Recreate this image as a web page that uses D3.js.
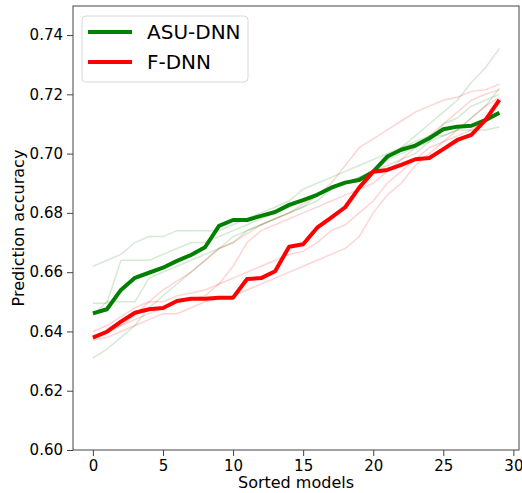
<!DOCTYPE html>
<html>
<head>
<meta charset="utf-8">
<script src="https://cdn.jsdelivr.net/npm/d3@7"></script>
<style>
  html, body { margin: 0; padding: 0; background: #fff; }
  svg text { font-family: "DejaVu Sans", sans-serif; fill: #000; }
</style>
</head>
<body>
<svg id="chart" width="522" height="493"></svg>
<script>
// ── data ──
const models = d3.range(30);
const xTicks = [0, 5, 10, 15, 20, 25, 30];
const yTicks = [0.60, 0.62, 0.64, 0.66, 0.68, 0.70, 0.72, 0.74];

const asuMean = [0.6461, 0.6475, 0.6540, 0.6581, 0.6598, 0.6615, 0.6638, 0.6658, 0.6684, 0.6756,
  0.6776, 0.6776, 0.6790, 0.6803, 0.6827, 0.6843, 0.6861, 0.6885, 0.6902, 0.6911,
  0.6939, 0.6990, 0.7013, 0.7027, 0.7052, 0.7082, 0.7091, 0.7094, 0.7113, 0.7138];
const fMean = [0.6379, 0.6399, 0.6433, 0.6463, 0.6475, 0.6479, 0.6503, 0.6510, 0.6510, 0.6514,
  0.6514, 0.6577, 0.6580, 0.6603, 0.6686, 0.6694, 0.6750, 0.6784, 0.6819, 0.6885,
  0.6939, 0.6945, 0.6962, 0.6981, 0.6985, 0.7015, 0.7046, 0.7063, 0.7113, 0.7181];

// individual runs (faint)
const asuRuns = [
  [0.662, 0.664, 0.666, 0.670, 0.672, 0.672, 0.674, 0.674, 0.674, 0.674, 0.676, 0.678, 0.680, 0.682, 0.684,
   0.688, 0.690, 0.692, 0.694, 0.696, 0.698, 0.700, 0.702, 0.704, 0.706, 0.706, 0.708, 0.708, 0.708, 0.709],
  [0.631, 0.634, 0.638, 0.642, 0.648, 0.652, 0.656, 0.660, 0.664, 0.668, 0.672, 0.674, 0.676, 0.678, 0.680,
   0.682, 0.684, 0.688, 0.690, 0.692, 0.694, 0.698, 0.702, 0.706, 0.710, 0.714, 0.718, 0.724, 0.729, 0.7355],
  [0.6495, 0.6495, 0.664, 0.664, 0.664, 0.666, 0.668, 0.670, 0.670, 0.672, 0.674, 0.676, 0.678, 0.680, 0.682,
   0.684, 0.686, 0.688, 0.690, 0.692, 0.694, 0.698, 0.700, 0.702, 0.704, 0.710, 0.712, 0.716, 0.718, 0.720],
  [0.6455, 0.650, 0.650, 0.650, 0.658, 0.660, 0.662, 0.664, 0.666, 0.668, 0.670, 0.674, 0.676, 0.678, 0.680,
   0.682, 0.686, 0.688, 0.690, 0.692, 0.694, 0.696, 0.698, 0.700, 0.704, 0.706, 0.708, 0.712, 0.716, 0.722]
];
const fRuns = [
  [0.6385, 0.6395, 0.642, 0.6455, 0.650, 0.654, 0.657, 0.660, 0.664, 0.668, 0.670, 0.673, 0.676, 0.678, 0.680,
   0.683, 0.686, 0.690, 0.696, 0.702, 0.705, 0.708, 0.711, 0.714, 0.716, 0.718, 0.719, 0.721, 0.7215, 0.7235],
  [0.637, 0.638, 0.640, 0.642, 0.644, 0.646, 0.646, 0.648, 0.650, 0.651, 0.652, 0.654, 0.656, 0.658, 0.660,
   0.662, 0.664, 0.666, 0.668, 0.672, 0.680, 0.686, 0.690, 0.696, 0.700, 0.704, 0.708, 0.712, 0.716, 0.719],
  [0.6375, 0.640, 0.642, 0.644, 0.646, 0.648, 0.650, 0.651, 0.652, 0.656, 0.662, 0.670, 0.674, 0.676, 0.678,
   0.680, 0.682, 0.684, 0.686, 0.688, 0.690, 0.694, 0.698, 0.702, 0.706, 0.710, 0.714, 0.718, 0.720, 0.7215],
  [0.640, 0.642, 0.645, 0.648, 0.650, 0.650, 0.652, 0.653, 0.654, 0.656, 0.658, 0.660, 0.662, 0.664, 0.666,
   0.667, 0.670, 0.674, 0.676, 0.680, 0.684, 0.690, 0.694, 0.698, 0.702, 0.704, 0.706, 0.708, 0.712, 0.717]
];

const series = [
  { name: 'ASU-DNN', color: 'green', mean: asuMean, runs: asuRuns },
  { name: 'F-DNN',   color: 'red',   mean: fMean,   runs: fRuns }
];

// ── layout ──
const M = { left: 73, top: 6, right: 519, bottom: 450 };
const svg = d3.select('#chart');

const x = d3.scaleLinear().domain([-1.42, 30.4]).range([M.left, M.right]);
const y = d3.scaleLinear().domain([0.60, 0.7498]).range([M.bottom, M.top]);

const line = d3.line().x((d, i) => x(models[i])).y(d => y(d));

// faint runs first, then the means on top
const plot = svg.append('g');
series.forEach(s => {
  s.runs.forEach(r => {
    plot.append('path').datum(r)
      .attr('d', line).attr('fill', 'none')
      .attr('stroke', s.color).attr('stroke-opacity', 0.17).attr('stroke-width', 1.5);
  });
});
series.forEach(s => {
  plot.append('path').datum(s.mean)
    .attr('d', line).attr('fill', 'none')
    .attr('stroke', s.color).attr('stroke-width', 4).attr('stroke-linejoin', 'round');
});

// axes
const xAxis = svg.append('g').attr('transform', `translate(0,${M.bottom})`)
  .call(d3.axisBottom(x).tickValues(xTicks).tickSize(6).tickPadding(4).tickFormat(d3.format('d')));
const yAxis = svg.append('g').attr('transform', `translate(${M.left},0)`)
  .call(d3.axisLeft(y).tickValues(yTicks).tickSize(6).tickPadding(4).tickFormat(d3.format('.2f')));
[xAxis, yAxis].forEach(a => {
  a.select('.domain').remove();
  a.selectAll('line').attr('stroke', '#444');
  a.selectAll('text').attr('font-size', 15).attr('font-family', '"DejaVu Sans", sans-serif');
});

// frame
svg.append('rect')
  .attr('x', M.left).attr('y', M.top)
  .attr('width', M.right - M.left).attr('height', M.bottom - M.top)
  .attr('fill', 'none').attr('stroke', '#444').attr('stroke-width', 1);

// labels
svg.append('text').attr('x', (M.left + M.right) / 2).attr('y', 488)
  .attr('text-anchor', 'middle').attr('font-size', 16).text('Sorted models');
svg.append('text').attr('transform', `translate(24,${(M.top + M.bottom) / 2}) rotate(-90)`)
  .attr('text-anchor', 'middle').attr('font-size', 16).text('Prediction accuracy');

// legend
const lg = svg.append('g').attr('transform', 'translate(82,16)');
lg.append('rect').attr('width', 166).attr('height', 66).attr('rx', 4)
  .attr('fill', '#fff').attr('fill-opacity', 0.8).attr('stroke', '#d8d8d8');
series.forEach((s, i) => {
  const yy = 16 + i * 30;
  lg.append('line').attr('x1', 6).attr('x2', 50).attr('y1', yy).attr('y2', yy)
    .attr('stroke', s.color).attr('stroke-width', 4);
  lg.append('text').attr('x', 65).attr('y', yy + 7).attr('font-size', 20).text(s.name);
});
</script>
</body>
</html>
